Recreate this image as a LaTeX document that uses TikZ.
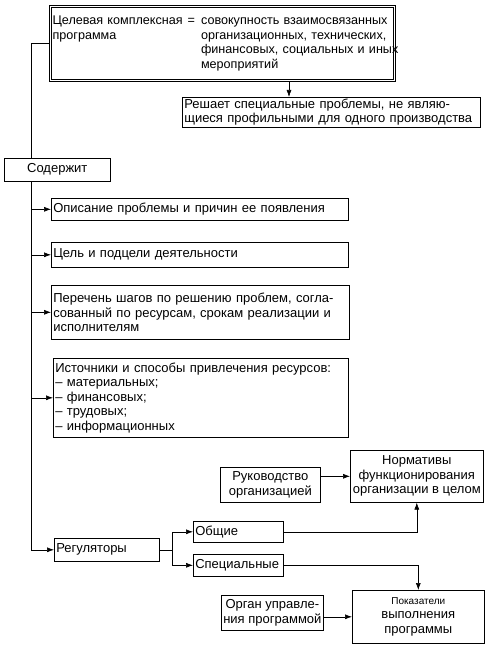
\documentclass[tikz,border=0pt]{standalone}
\usepackage{fontspec}
\setmainfont{Liberation Sans}
\usetikzlibrary{arrows.meta,fit}
\begin{document}
\begin{tikzpicture}[x=1pt,y=-1pt]
  \tikzset{ box/.style={draw,line width=0.6pt,anchor=north west,inner xsep=2pt,inner ysep=0pt,
      font=\fontsize{13}{14.5}\selectfont},
    lbox/.style={box,align=left},
    cbox/.style={box,align=center},
    arr/.style={-{Latex[length=7pt,width=5pt]},line width=0.6pt},
    ln/.style={line width=0.6pt},
  }
  \useasboundingbox (0,0) rectangle (489,647);

  % the program and what it solves
  \node[lbox,line width=1.2pt,inner xsep=1pt,text width=340,minimum height=72,
    font=\fontsize{12.6}{14.5}\selectfont] (prog) at (51,7)
    {\begin{tabular}{@{}l@{\hspace{5pt}}l@{\hspace{6pt}}l@{}}
      Целевая комплексная & = & совокупность взаимосвязанных\\
      программа & & организационных, технических,\\
      & & финансовых, социальных и иных\\
      & & мероприятий
     \end{tabular}};
  \node[fit=(prog),inner sep=1.5pt,draw,line width=0.6pt] (frame) {};
  \node[lbox,text width=294,minimum height=30] (solve) at (182,97)
    {Решает специальные проблемы, не являю-\\щиеся профильными для одного производства};
  \node[cbox,minimum width=106,minimum height=23] (soder) at (4,158) {Содержит};

  % what the program contains
  \node[lbox,text width=293,minimum height=22] (opis) at (51,198) {Описание проблемы и причин ее появления};
  \node[lbox,text width=293,minimum height=25] (goal) at (51,242) {Цель и подцели деятельности};
  \node[lbox,text width=294,minimum height=54] (steps) at (51,285)
    {Перечень шагов по решению проблем, согла-\\сованный по ресурсам, срокам реализации и\\исполнителям};
  \node[lbox,text width=291,minimum height=79] (res) at (53,358)
    {Источники и способы привлечения ресурсов:\\– материальных;\\– финансовых;\\– трудовых;\\– информационных};

  % regulators
  \node[cbox,minimum width=100,minimum height=35] (ruk) at (220,467) {Руководство\\организацией};
  \node[cbox,minimum width=133,minimum height=52] (norm) at (350,450) {Нормативы\\функционирования\\организации в целом};
  \node[lbox,text width=101,minimum height=23] (reg) at (54,538) {Регуляторы};
  \node[lbox,text width=86,minimum height=21] (obsh) at (193,521) {Общие};
  \node[lbox,text width=86,minimum height=22] (spec) at (193,554) {Специальные};
  \node[cbox,minimum width=101,minimum height=35] (organ) at (221,595) {Орган управле-\\ния программой};
  \node[cbox,minimum width=132,minimum height=53] (pok) at (352,590)
    {{\fontsize{10}{12}\selectfont Показатели}\\выполнения\\программы};

  % connectors
  \coordinate (trunk) at (31,0);
  \coordinate (drop) at (289,0);
  \draw[ln] (frame.west) -| (trunk |- soder.north);
  \draw[arr] (drop |- frame.south) -- (drop |- solve.north);
  \draw[arr] (trunk |- soder.south) |- (reg.west);
  \foreach \b in {opis,goal,steps,res}
    \draw[arr] (trunk |- \b.west) -- (\b.west);
  \draw[arr] (reg.east) -- ++(13,0) |- (obsh.west);
  \draw[arr] (reg.east) -- ++(13,0) |- (spec.west);
  \draw[arr] (obsh.east) -| (norm.south);
  \draw[arr] (spec.east) -| (pok.north);
  \draw[arr] (ruk.east |- norm.west) -- (norm.west);
  \draw[arr] (organ.east |- pok.west) -- (pok.west);
\end{tikzpicture}
\end{document}
